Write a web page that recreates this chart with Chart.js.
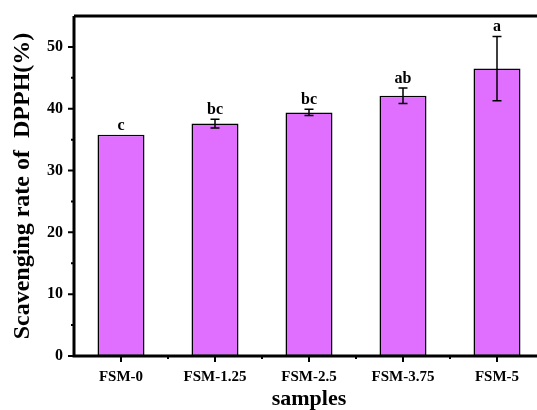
<!DOCTYPE html>
<html>
<head>
<meta charset="utf-8">
<script src="https://cdn.jsdelivr.net/npm/chart.js@4/dist/chart.umd.min.js"></script>
<style>
  html, body { margin: 0; padding: 0; background: #fff; overflow: hidden; }
  canvas { display: block; }
</style>
</head>
<body>
<canvas id="dpphChart" width="550" height="410"></canvas>
<script>
// data
const categories = ["FSM-0", "FSM-1.25", "FSM-2.5", "FSM-3.75", "FSM-5"];
const meanValues = [35.8, 37.6, 39.4, 42.1, 46.5];
const errorValues = [0, 0.7, 0.5, 1.25, 5.2];
const groupLetters = ["c", "bc", "bc", "ab", "a"];
const yTickValues = [0, 10, 20, 30, 40, 50];
const yMinorValues = [5, 15, 25, 35, 45];

const serif = "'Liberation Serif', 'Times New Roman', serif";

// error bars + significance letters
const errorBarPlugin = {
  id: "errorBars",
  afterDatasetsDraw(chart) {
    const ctx = chart.ctx;
    const y = chart.scales.y;
    const meta = chart.getDatasetMeta(0);
    ctx.save();
    ctx.strokeStyle = "#000";
    ctx.lineWidth = 1.5;
    meta.data.forEach((bar, i) => {
      const err = errorValues[i];
      const top = y.getPixelForValue(meanValues[i] + err);
      const bottom = y.getPixelForValue(meanValues[i] - err);
      if (err > 0) {
        ctx.beginPath();
        ctx.moveTo(bar.x, top);
        ctx.lineTo(bar.x, bottom);
        ctx.moveTo(bar.x - 4.5, top);
        ctx.lineTo(bar.x + 4.5, top);
        ctx.moveTo(bar.x - 4.5, bottom);
        ctx.lineTo(bar.x + 4.5, bottom);
        ctx.stroke();
      }
      ctx.fillStyle = "#000";
      ctx.font = "bold 16px " + serif;
      ctx.textAlign = "center";
      ctx.textBaseline = "alphabetic";
      ctx.fillText(groupLetters[i], bar.x, top - 5);
    });
    ctx.restore();
  },
};

// axis frame with major/minor ticks
const framePlugin = {
  id: "frame",
  afterDraw(chart) {
    const ctx = chart.ctx;
    const area = chart.chartArea;
    const x = chart.scales.x;
    const y = chart.scales.y;
    ctx.save();
    ctx.strokeStyle = "#000";
    ctx.lineWidth = 3;
    ctx.beginPath();
    ctx.moveTo(area.left, area.top);
    ctx.lineTo(area.right, area.top);
    ctx.moveTo(area.left, area.top);
    ctx.lineTo(area.left, area.bottom + 1.5);
    ctx.moveTo(area.left - 1.5, area.bottom);
    ctx.lineTo(area.right, area.bottom);
    ctx.moveTo(area.right, area.top);
    ctx.lineTo(area.right, area.bottom);
    ctx.stroke();

    ctx.lineWidth = 2;
    ctx.beginPath();
    yTickValues.forEach(v => {
      const py = y.getPixelForValue(v);
      ctx.moveTo(area.left, py);
      ctx.lineTo(area.left - 6, py);
    });
    yMinorValues.forEach(v => {
      const py = y.getPixelForValue(v);
      ctx.moveTo(area.left, py);
      ctx.lineTo(area.left - 3, py);
    });
    categories.forEach((c, i) => {
      const px = x.getPixelForValue(i);
      ctx.moveTo(px, area.bottom);
      ctx.lineTo(px, area.bottom + 6);
      if (i > 0) {
        const mx = (px + x.getPixelForValue(i - 1)) / 2;
        ctx.moveTo(mx, area.bottom);
        ctx.lineTo(mx, area.bottom + 3);
      }
    });
    ctx.stroke();
    ctx.restore();
  },
};

new Chart(document.getElementById("dpphChart"), {
  type: "bar",
  data: {
    labels: categories,
    datasets: [
      {
        data: meanValues,
        backgroundColor: "#E06EFF",
        borderColor: "#000",
        borderWidth: 1.5,
        borderSkipped: false,
        categoryPercentage: 1,
        barPercentage: 0.5,
      },
    ],
  },
  options: {
    responsive: false,
    animation: false,
    layout: { padding: { top: 16, right: 6, left: 0, bottom: 0 } },
    plugins: {
      legend: { display: false },
      tooltip: { enabled: false },
    },
    scales: {
      x: {
        grid: { display: false, drawTicks: false },
        border: { display: false },
        ticks: {
          color: "#000",
          padding: 12,
          font: { family: serif, size: 15, weight: "bold" },
        },
        title: {
          display: true,
          text: "samples",
          color: "#000",
          padding: { top: 0, bottom: -3 },
          font: { family: serif, size: 22, weight: "bold" },
        },
        afterFit(scale) {
          scale.height = 54;
          scale.paddingLeft = 0;
          scale.paddingRight = 0;
        },
      },
      y: {
        min: 0,
        max: 55,
        grid: { display: false, drawTicks: false },
        border: { display: false },
        ticks: {
          color: "#000",
          padding: 11,
          font: { family: serif, size: 16, weight: "bold" },
        },
        afterBuildTicks(scale) {
          scale.ticks = yTickValues.map(v => ({ value: v }));
        },
        title: {
          display: true,
          text: "Scavenging rate of  DPPH(%)",
          color: "#000",
          padding: { top: 8, bottom: 0 },
          font: { family: serif, size: 24, weight: "bold" },
        },
        afterFit(scale) {
          scale.width = 74;
          scale.paddingTop = 0;
          scale.paddingBottom = 0;
        },
      },
    },
  },
  plugins: [errorBarPlugin, framePlugin],
});
</script>
</body>
</html>
